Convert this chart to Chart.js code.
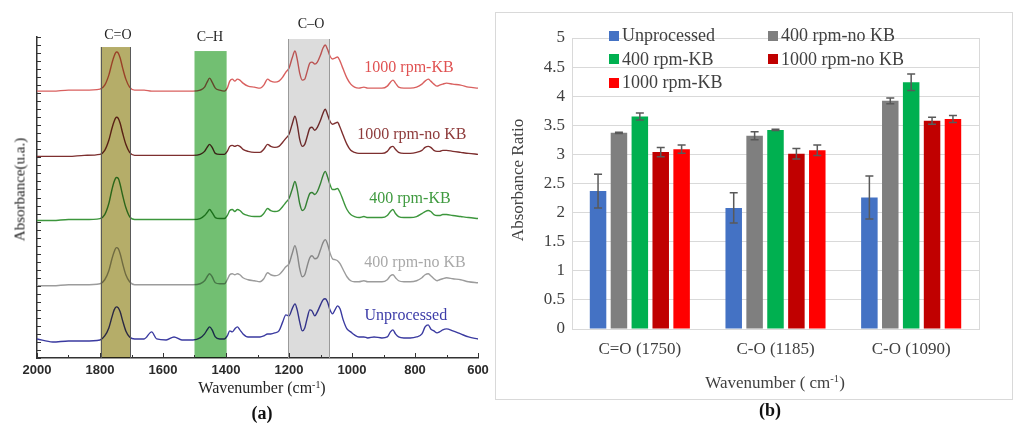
<!DOCTYPE html>
<html lang="en">
<head>
  <meta charset="UTF-8">
  <title>FTIR spectra and absorbance ratios</title>
  <script src="https://cdn.jsdelivr.net/npm/chart.js"></script>
  <style>
    body { margin: 0; width: 1024px; height: 423px; background: #fff; position: relative; overflow: hidden; }
    .txt { position: absolute; font-family: "Liberation Serif", "DejaVu Serif", serif; white-space: nowrap; text-align: center; }
    .txt sup { font-size: 0.62em; line-height: 0; vertical-align: 0.55em; }
    .rot { transform: rotate(-90deg); }
    #pa { position: absolute; left: 0; top: 0; }
    #pb { position: absolute; left: 495px; top: 12px; width: 516px; height: 386px; border: 1px solid #d9d9d9; }
    #legendB { position: absolute; left: 0; top: 0; }
    .lg { position: absolute; display: flex; align-items: center; font-family: "Liberation Serif", "DejaVu Serif", serif; font-size: 18px; color: #404040; white-space: nowrap; }
    .lg i { display: inline-block; width: 10px; height: 10px; margin-right: 3px; }
  </style>
</head>
<body>
  <div id="pa"><canvas id="chartA" width="495" height="382"></canvas></div>
  <div class="txt rot" style="left:-80px; top:181px; width:200px; font-size:15px; color:#222;">Absorbance(u.a.)</div>
  <div class="txt" style="left:162px; top:379px; width:200px; font-size:16px; color:#222;">Wavenumber (cm<sup>-1</sup>)</div>
  <div class="txt" style="left:212px; top:403px; width:100px; font-size:18px; font-weight:bold; color:#111;">(a)</div>

  <div id="pb">
    <canvas id="chartB" width="516" height="386"></canvas>
    <div id="legendB"></div>
    <div class="txt" style="left:179px; top:360px; width:200px; font-size:17px; color:#404040;">Wavenumber ( cm<sup>-1</sup>)</div>
  </div>
  <div class="txt rot" style="left:418px; top:170px; width:200px; font-size:17px; color:#404040;">Absorbance Ratio</div>
  <div class="txt" style="left:720px; top:400px; width:100px; font-size:18px; font-weight:bold; color:#111;">(b)</div>

  <script>
    const SERIF = '"Liberation Serif", "DejaVu Serif", serif';
    const SANS = '"Liberation Sans", Arial, sans-serif';

    // ---------- panel (a): FTIR spectra (absorbance in arbitrary units, stacked) ----------
    const wavenumbers = [2000, 1950, 1900, 1850, 1800, 1785, 1772, 1762, 1755, 1748, 1742, 1736, 1728, 1718, 1706, 1690,
      1660, 1636, 1620, 1590, 1565, 1540, 1505, 1482, 1468, 1460, 1452, 1444, 1434, 1420, 1405, 1396, 1388, 1380,
      1372, 1364, 1356, 1346, 1330, 1310, 1292, 1280, 1268, 1258, 1245, 1232, 1220, 1210, 1200, 1190, 1181, 1174,
      1166, 1158, 1150, 1142, 1134, 1127, 1118, 1110, 1100, 1092, 1085, 1078, 1070, 1062, 1054, 1046, 1038, 1028,
      1016, 1004, 992, 978, 962, 950, 930, 905, 888, 878, 870, 862, 852, 835, 815, 795, 778, 768, 758, 750, 740,
      730, 722, 712, 700, 680, 655, 630, 600];

    const rpm1000KB = [266, 266, 267, 267, 268, 272, 282, 294, 301, 305, 304, 299, 289, 278, 270, 267, 267, 266, 266, 266,
      266, 266, 266, 267, 270, 275, 279, 275, 269, 267, 266, 269, 276, 278, 276, 278, 277, 274, 271, 270, 269, 272, 278,
      276, 275, 276, 280, 285, 289, 299, 306, 298, 284, 277, 278, 286, 294, 295, 293, 295, 302, 309, 312, 308, 301, 298,
      299, 300, 296, 288, 279, 273, 270, 269, 270, 269, 269, 269, 271, 275, 277, 274, 270, 269, 269, 270, 273, 276, 278,
      276, 273, 271, 272, 273, 274, 273, 272, 270, 269];
    const rpm1000NoKB = [201, 201, 201, 202, 203, 207, 217, 229, 236, 240, 239, 234, 224, 213, 205, 202, 202, 202, 202, 202,
      202, 202, 202, 203, 206, 210, 213, 210, 204, 203, 203, 206, 211, 212, 211, 212, 211, 208, 206, 205, 205, 208, 213,
      211, 210, 211, 215, 219, 223, 233, 241, 233, 218, 211, 213, 221, 229, 230, 227, 230, 237, 244, 248, 243, 236, 233,
      234, 235, 230, 222, 213, 207, 205, 204, 204, 204, 204, 204, 206, 210, 211, 208, 205, 204, 204, 205, 207, 210, 211,
      210, 207, 206, 206, 207, 207, 206, 205, 204, 203];
    const rpm400KB = [137, 137, 138, 138, 139, 143, 154, 168, 176, 180, 179, 173, 162, 150, 141, 138, 138, 138, 138, 138,
      138, 138, 138, 139, 142, 145, 148, 145, 140, 139, 139, 142, 147, 148, 146, 148, 147, 144, 142, 141, 141, 144, 149,
      147, 146, 147, 151, 155, 159, 168, 176, 168, 154, 147, 149, 157, 164, 165, 163, 166, 174, 182, 186, 181, 173, 168,
      168, 169, 165, 157, 148, 143, 141, 140, 141, 140, 140, 140, 142, 146, 148, 144, 141, 140, 140, 141, 144, 146, 147,
      146, 143, 142, 142, 143, 143, 142, 141, 140, 139];
    const rpm400NoKB = [72, 72, 73, 73, 74, 78, 87, 99, 106, 110, 109, 104, 94, 83, 76, 73, 73, 73, 73, 73,
      73, 73, 73, 74, 77, 81, 84, 81, 75, 74, 74, 78, 83, 84, 83, 84, 83, 80, 78, 77, 76, 79, 85,
      83, 82, 83, 87, 91, 94, 104, 112, 104, 89, 81, 83, 92, 100, 102, 99, 100, 108, 115, 118, 114, 105, 99,
      98, 97, 94, 88, 81, 77, 76, 76, 77, 76, 76, 76, 78, 82, 83, 80, 77, 76, 76, 77, 80, 83, 84,
      82, 79, 77, 78, 79, 80, 79, 78, 76, 75];
    const unprocessed = [19, 16, 17, 17, 18, 22, 30, 41, 48, 51, 50, 46, 37, 27, 21, 19, 19, 26, 19, 18,
      21, 18, 18, 20, 24, 28, 31, 28, 21, 19, 19, 22, 27, 26, 29, 31, 28, 24, 21, 21, 21, 22, 24,
      24, 25, 27, 36, 43, 42, 49, 54, 48, 36, 27, 30, 40, 48, 47, 42, 46, 53, 58, 59, 56, 48, 44,
      48, 52, 49, 38, 29, 26, 23, 21, 21, 20, 21, 20, 21, 26, 28, 24, 21, 20, 20, 21, 24, 31, 33,
      29, 27, 25, 26, 28, 29, 27, 24, 21, 19];

    const traceNames = ['1000 rpm-KB', '1000 rpm-no KB', '400 rpm-KB', '400 rpm-no KB', 'Unprocessed'];
    const traceValues = [rpm1000KB, rpm1000NoKB, rpm400KB, rpm400NoKB, unprocessed];
    const traceColors = ['#d9605f', '#7d2f2f', '#3c963c', '#9c9c9c', '#3a3aa0'];
    const traceLabelColors = ['#e05252', '#8e3b3b', '#3f9a3f', '#a9a9a9', '#3c3ca8'];
    // where each trace name sits (wavenumber, absorbance units)
    const traceLabelWn = [819, 810, 816, 800, 829];
    const traceLabelAbs = [289, 223, 159, 95, 42];

    // highlighted bands
    const bandNames = ['C=O', 'C\u2013H', 'C\u2013O'];
    const bandFrom = [1798, 1500, 1202];
    const bandTo = [1703, 1398, 1070];
    const bandTop = [310, 306, 318];
    const bandLabelWn = [1743, 1451, 1130];
    const bandLabelAbs = [322, 320, 333];
    const bandFill = ['#b5ad69', '#72bf72', '#dcdcdc'];
    const bandEdge = ['#5a5a5a', null, '#9a9a9a'];

    const bandsPlugin = {
      id: 'bands',
      afterDatasetsDraw(chart) {
        const { ctx, scales: { x, y } } = chart;
        ctx.save();
        ctx.globalCompositeOperation = 'multiply';
        bandNames.forEach((n, i) => {
          const x1 = x.getPixelForValue(bandFrom[i]);
          const x2 = x.getPixelForValue(bandTo[i]);
          const yt = y.getPixelForValue(bandTop[i]);
          ctx.fillStyle = bandFill[i];
          ctx.fillRect(x1, yt, x2 - x1, y.bottom - yt);
        });
        ctx.globalCompositeOperation = 'source-over';
        bandNames.forEach((n, i) => {
          if (!bandEdge[i]) return;
          const x1 = Math.round(x.getPixelForValue(bandFrom[i])) + 0.5;
          const x2 = Math.round(x.getPixelForValue(bandTo[i])) - 0.5;
          const yt = y.getPixelForValue(bandTop[i]);
          ctx.strokeStyle = bandEdge[i];
          ctx.lineWidth = 1;
          ctx.beginPath();
          ctx.moveTo(x1, yt); ctx.lineTo(x1, y.bottom);
          ctx.moveTo(x2, yt); ctx.lineTo(x2, y.bottom);
          ctx.stroke();
        });
        ctx.restore();
      }
    };

    const annotatePlugin = {
      id: 'annotate',
      afterDraw(chart) {
        const { ctx, scales: { x, y } } = chart;
        ctx.save();
        ctx.textAlign = 'center';
        ctx.textBaseline = 'middle';
        ctx.font = '14px ' + SERIF;
        ctx.fillStyle = '#222';
        bandNames.forEach((n, i) => {
          ctx.fillText(n, x.getPixelForValue(bandLabelWn[i]), y.getPixelForValue(bandLabelAbs[i]));
        });
        ctx.font = '16px ' + SERIF;
        traceNames.forEach((n, i) => {
          ctx.fillStyle = traceLabelColors[i];
          ctx.fillText(n, x.getPixelForValue(traceLabelWn[i]), y.getPixelForValue(traceLabelAbs[i]));
        });
        // inward tick marks
        ctx.strokeStyle = '#333';
        ctx.lineWidth = 1;
        ctx.beginPath();
        x.ticks.forEach(t => {
          const px = Math.round(x.getPixelForValue(t.value)) + 0.5;
          ctx.moveTo(px, x.top);
          ctx.lineTo(px, x.top - (t.value % 200 === 0 ? 5 : 3));
        });
        y.ticks.forEach(t => {
          const py = Math.round(y.getPixelForValue(t.value)) + 0.5;
          ctx.moveTo(y.right, py);
          ctx.lineTo(y.right + 4, py);
        });
        ctx.stroke();
        ctx.restore();
      }
    };

    new Chart(document.getElementById('chartA'), {
      type: 'line',
      data: {
        datasets: traceNames.map((name, i) => ({
          label: name,
          data: wavenumbers.map((w, j) => ({ x: w, y: traceValues[i][j] })),
          borderColor: traceColors[i],
          borderWidth: 1.4,
          pointRadius: 0,
          cubicInterpolationMode: 'monotone',
          fill: false
        }))
      },
      options: {
        responsive: false,
        animation: false,
        layout: { padding: { left: 0, right: 17, top: 37, bottom: 0 } },
        plugins: { legend: { display: false }, tooltip: { enabled: false } },
        scales: {
          x: {
            type: 'linear',
            min: 600,
            max: 2000,
            reverse: true,
            grid: { display: false, drawTicks: false },
            border: { color: '#333', width: 1.5 },
            ticks: {
              stepSize: 100,
              autoSkip: false,
              maxRotation: 0,
              padding: 5,
              color: '#2a2a2a',
              font: { family: SANS, size: 13, weight: 'bold' },
              callback: v => (v % 200 === 0 ? String(v) : '')
            },
            afterFit(s) { s.height = 24; }
          },
          y: {
            min: 0,
            max: 320,
            grid: { display: false, drawTicks: false },
            border: { color: '#333', width: 1.5 },
            ticks: { display: false, stepSize: 8 },
            afterFit(s) { s.width = 37; }
          }
        }
      },
      plugins: [bandsPlugin, annotatePlugin]
    });

    // ---------- panel (b): absorbance ratio bars ----------
    const categories = ['C=O (1750)', 'C-O (1185)', 'C-O (1090)'];
    const barLabels = ['Unprocessed', '400 rpm-no KB', '400 rpm-KB', '1000 rpm-no KB', '1000 rpm-KB'];
    const ratioUnprocessed = [2.37, 2.08, 2.26];
    const ratio400NoKB = [3.37, 3.32, 3.92];
    const ratio400KB = [3.65, 3.42, 4.24];
    const ratio1000NoKB = [3.04, 3.01, 3.58];
    const ratio1000KB = [3.09, 3.07, 3.61];
    const errUnprocessed = [0.29, 0.26, 0.37];
    const err400NoKB = [0.01, 0.07, 0.05];
    const err400KB = [0.06, 0.01, 0.14];
    const err1000NoKB = [0.08, 0.09, 0.06];
    const err1000KB = [0.07, 0.09, 0.06];
    const yTicksB = [0, 0.5, 1, 1.5, 2, 2.5, 3, 3.5, 4, 4.5, 5];

    const barValues = [ratioUnprocessed, ratio400NoKB, ratio400KB, ratio1000NoKB, ratio1000KB];
    const barErrors = [errUnprocessed, err400NoKB, err400KB, err1000NoKB, err1000KB];
    const barColors = ['#4472c4', '#7f7f7f', '#00b050', '#c00000', '#ff0000'];

    const errorBarsPlugin = {
      id: 'errorBars',
      afterDatasetsDraw(chart) {
        const { ctx, scales: { y } } = chart;
        ctx.save();
        ctx.strokeStyle = '#595959';
        ctx.lineWidth = 1.5;
        chart.data.datasets.forEach((ds, i) => {
          chart.getDatasetMeta(i).data.forEach((bar, j) => {
            const v = ds.data[j], e = ds.errors[j];
            const yt = y.getPixelForValue(v + e), yb = y.getPixelForValue(v - e);
            ctx.beginPath();
            ctx.moveTo(bar.x, yt); ctx.lineTo(bar.x, yb);
            ctx.moveTo(bar.x - 4, yt); ctx.lineTo(bar.x + 4, yt);
            ctx.moveTo(bar.x - 4, yb); ctx.lineTo(bar.x + 4, yb);
            ctx.stroke();
          });
        });
        ctx.restore();
      }
    };

    const plotBoxPlugin = {
      id: 'plotBox',
      beforeDatasetsDraw(chart) {
        const { ctx, chartArea: a } = chart;
        ctx.save();
        ctx.strokeStyle = '#d9d9d9';
        ctx.lineWidth = 1;
        ctx.strokeRect(Math.round(a.left) + 0.5, Math.round(a.top) + 0.5, Math.round(a.right - a.left), Math.round(a.bottom - a.top));
        ctx.restore();
      }
    };

    new Chart(document.getElementById('chartB'), {
      type: 'bar',
      data: {
        labels: categories,
        datasets: barLabels.map((name, i) => ({
          label: name,
          data: barValues[i],
          errors: barErrors[i],
          backgroundColor: barColors[i],
          categoryPercentage: 0.77,
          barPercentage: 0.79
        }))
      },
      options: {
        responsive: false,
        animation: false,
        layout: { padding: { left: 0, right: 33, top: 25, bottom: 0 } },
        plugins: { legend: { display: false }, tooltip: { enabled: false } },
        scales: {
          x: {
            grid: { display: false, drawTicks: false },
            border: { display: false },
            ticks: { color: '#404040', padding: 10, font: { family: SERIF, size: 17 } },
            afterFit(s) { s.height = 70; }
          },
          y: {
            min: 0,
            max: 5,
            grid: { color: '#d9d9d9', drawTicks: false },
            border: { display: false },
            afterBuildTicks(s) { s.ticks = yTicksB.map(v => ({ value: v })); },
            ticks: { color: '#404040', padding: 7, font: { family: SERIF, size: 17 }, callback: v => String(v) },
            afterFit(s) { s.width = 76; }
          }
        }
      },
      plugins: [plotBoxPlugin, errorBarsPlugin]
    });

    // legend for panel (b): two columns, filled row by row
    const legendB = document.getElementById('legendB');
    barLabels.forEach((name, i) => {
      const item = document.createElement('div');
      item.className = 'lg';
      item.style.left = (i % 2 === 0 ? 113 : 272) + 'px';
      item.style.top = (12 + Math.floor(i / 2) * 23.5) + 'px';
      item.innerHTML = '<i style="background:' + barColors[i] + '"></i>' + name;
      legendB.appendChild(item);
    });
  </script>
</body>
</html>
